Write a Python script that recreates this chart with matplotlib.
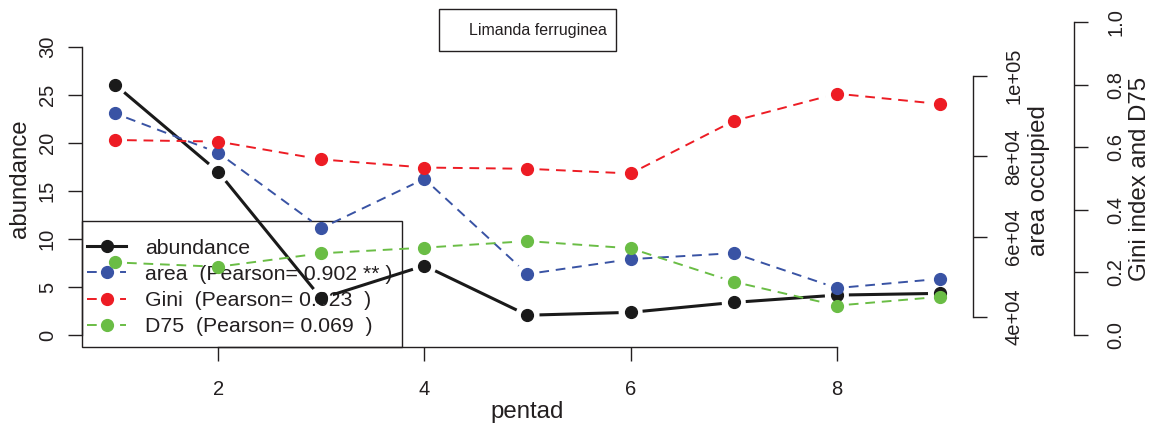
import numpy as np
import matplotlib
matplotlib.use("Agg")
import matplotlib.pyplot as plt
from matplotlib.patches import Rectangle
from matplotlib.lines import Line2D

plt.rcParams['font.family'] = ['Liberation Sans', 'DejaVu Sans']

# -----------------------------
# Data (per pentad)
# -----------------------------
pentad = [1, 2, 3, 4, 5, 6, 7, 8, 9]
abundance = [26.05, 17.0, 3.85, 7.25, 2.1, 2.4, 3.43, 4.19, 4.37]
area = [90700, 80900, 62100, 74400, 50700, 54400, 55900, 47200, 49500]
gini = [0.623, 0.618, 0.561, 0.535, 0.531, 0.516, 0.684, 0.771, 0.738]
d75 = [0.232, 0.218, 0.261, 0.279, 0.300, 0.277, 0.170, 0.094, 0.122]

species = "Limanda ferruginea"
legend_labels = ["abundance",
                 "area  (Pearson= 0.902 ** )",
                 "Gini  (Pearson= 0.023  )",
                 "D75  (Pearson= 0.069  )"]

area_ticks = [40000, 60000, 80000, 100000]
area_ticklabels = ["4e+04", "6e+04", "8e+04", "1e+05"]
gini_ticks = [0.0, 0.2, 0.4, 0.6, 0.8, 1.0]
gini_ticklabels = ["0.0", "0.2", "0.4", "0.6", "0.8", "1.0"]

# -----------------------------
# Style
# -----------------------------
INK = '#231f20'
C_AB = '#1a1a1a'
C_AREA = '#3953a4'
C_GINI = '#ed1c24'
C_D75 = '#6abd45'
TICK_FS = 14.5
LAB_FS = 17.3
LEG_FS = 15.3
MS = 8.5
DASH = (5, 3.5)

W, H = 1152, 428
fig = plt.figure(figsize=(W / 100, H / 100), dpi=100)


def px_box(x0, x1, ytop, ybot):
    return [x0 / W, 1 - ybot / H, (x1 - x0) / W, (ybot - ytop) / H]


def gapped(ax, x, y, gap, **kw):
    # type="b" style: line segments stop short of each point
    pts = ax.transData.transform(np.column_stack([x, y]))
    inv = ax.transData.inverted()
    for p0, p1 in zip(pts[:-1], pts[1:]):
        d = p1 - p0
        L = np.hypot(*d)
        if L <= 2 * gap:
            continue
        u = d / L
        seg = inv.transform(np.vstack([p0 + u * gap, p1 - u * gap]))
        ax.plot(seg[:, 0], seg[:, 1], **kw)


def style_axis(ax, side):
    for s in ax.spines.values():
        s.set_visible(False)
    ax.spines[side].set_visible(True)
    ax.spines[side].set_linewidth(1.0)
    ax.spines[side].set_color(INK)
    ax.patch.set_visible(False)


xlim = (0.68, 9.32)

# -----------------------------
# Abundance (left axis)
# -----------------------------
ax1 = fig.add_axes(px_box(82, 973, 35, 347))
ax1.set_xlim(*xlim)
ax1.set_ylim(-1.2, 31.2)
style_axis(ax1, 'left')
ax1.spines['bottom'].set_visible(True)
ax1.spines['bottom'].set_linewidth(1.0)
ax1.spines['bottom'].set_color(INK)
ax1.spines['left'].set_bounds(0, 30)
ax1.spines['bottom'].set_bounds(2, 8)
ax1.set_xticks([2, 4, 6, 8])
ax1.set_yticks([0, 5, 10, 15, 20, 25, 30])
ax1.tick_params(axis='both', direction='out', length=10, width=1.0,
                colors=INK, labelsize=TICK_FS)
ax1.tick_params(axis='y', labelrotation=90, pad=8)
ax1.tick_params(axis='x', pad=13.5)
for t in ax1.get_yticklabels():
    t.set_verticalalignment('center')
ax1.text((20 - 82) / 891, (347 - 179) / 312, "abundance", transform=ax1.transAxes,
         rotation=90, ha='center', va='center', fontsize=LAB_FS, color=INK)
ax1.text(0.4994, (347 - 412) / 312, "pentad", transform=ax1.transAxes,
         ha='center', va='center', fontsize=LAB_FS, color=INK)

gapped(ax1, pentad, abundance, 12, color=C_AB, lw=2.2, zorder=6, solid_capstyle='butt')
ax1.plot(pentad, abundance, 'o', color=C_AB, ms=MS, zorder=6)

# legend box drawn on its own, entries placed inside it
ax1.add_patch(Rectangle((0, 0), (402 - 82) / 891, (347 - 221) / 312,
                        transform=ax1.transAxes, fill=False, edgecolor=INK,
                        lw=1.0, zorder=5, clip_on=False))
handles = [
    Line2D([], [], color=C_AB, lw=2.2, marker='o', ms=MS),
    Line2D([], [], color=C_AREA, lw=1.4, ls=(0, DASH), marker='o', ms=MS),
    Line2D([], [], color=C_GINI, lw=1.4, ls=(0, DASH), marker='o', ms=MS),
    Line2D([], [], color=C_D75, lw=1.4, ls=(0, DASH), marker='o', ms=MS),
]
leg = ax1.legend(handles, legend_labels, loc='upper left',
                 bbox_to_anchor=((87 - 82) / 891, (347 - 238.5) / 312),
                 borderaxespad=0, borderpad=0, fontsize=LEG_FS, handlelength=1.85,
                 handletextpad=0.9, labelspacing=0.34, frameon=False)
for t in leg.get_texts():
    t.set_color(INK)

# -----------------------------
# Area occupied (first right axis)
# -----------------------------
ax2 = fig.add_axes(px_box(82, 973, 35, 347))
ax2.set_xlim(*xlim)
ax2.set_ylim(32531, 110207)
style_axis(ax2, 'right')
ax2.spines['right'].set_bounds(40000, 100000)
ax2.set_xticks([])
ax2.yaxis.tick_right()
ax2.set_yticks(area_ticks)
ax2.set_yticklabels(area_ticklabels)
ax2.tick_params(axis='y', direction='out', length=10, width=1.0, colors=INK,
                labelsize=TICK_FS, labelrotation=90, pad=12.5)
for t in ax2.get_yticklabels():
    t.set_verticalalignment('center')
ax2.text((1039 - 82) / 891, (347 - 181) / 312, "area occupied", transform=ax2.transAxes,
         rotation=90, ha='center', va='center', fontsize=LAB_FS, color=INK)

gapped(ax2, pentad, area, 12, color=C_AREA, lw=1.4, ls=(0, DASH))
ax2.plot(pentad, area, 'o', color=C_AREA, ms=MS)

# -----------------------------
# Gini index and D75 (second right axis)
# -----------------------------
ax3 = fig.add_axes(px_box(82, 973, 22, 335))
ax3.set_xlim(*xlim)
ax3.set_ylim(0, 1)
style_axis(ax3, 'right')
ax3.spines['right'].set_position(('outward', 101 * 0.72))
ax3.set_xticks([])
ax3.yaxis.tick_right()
ax3.set_yticks(gini_ticks)
ax3.set_yticklabels(gini_ticklabels)
ax3.tick_params(axis='y', direction='out', length=10, width=1.0, colors=INK,
                labelsize=TICK_FS, labelrotation=90, pad=13.5)
for t in ax3.get_yticklabels():
    t.set_verticalalignment('center')
ax3.text((1140 - 82) / 891, 0.5, "Gini index and D75", transform=ax3.transAxes,
         rotation=90, ha='center', va='center', fontsize=LAB_FS, color=INK)

for vals, col in [(gini, C_GINI), (d75, C_D75)]:
    gapped(ax3, pentad, vals, 12, color=col, lw=1.4, ls=(0, DASH))
    ax3.plot(pentad, vals, 'o', color=col, ms=MS)

# -----------------------------
# Species box
# -----------------------------
fig.patches.append(Rectangle((439 / W, 1 - 51 / H), 177 / W, 42 / H,
                             transform=fig.transFigure, fill=False,
                             edgecolor=INK, lw=1.0))
fig.text(607 / W, 1 - 30 / H, species, ha='right', va='center',
         fontsize=11.5, color=INK)

fig.savefig("out.png", dpi=100)
